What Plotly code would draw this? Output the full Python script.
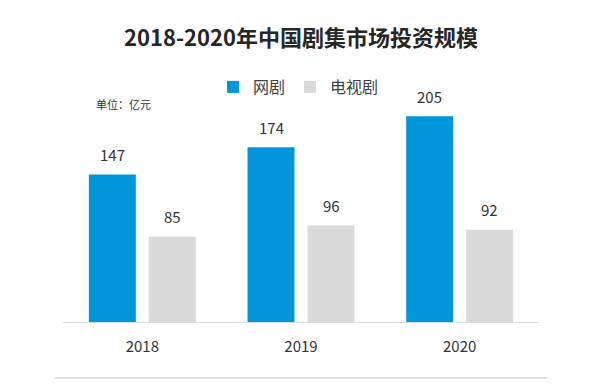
import plotly.graph_objects as go

years = ["2018", "2019", "2020"]
web_series = [147, 174, 205]
tv_series = [85, 96, 92]
series_names = ["网剧", "电视剧"]
title_text = "2018-2020年中国剧集市场投资规模"
unit_text = "单位：亿元"

FONT = "Noto Sans CJK SC"
BLUE = "#0096DB"
GRAY = "#DADADA"

W, H = 612, 384
L, R, T, B = 63, 73, 71, 62
pw, ph = W - L - R, H - T - B

def px_to_paper(xp, yp):
    return (xp - L) / pw, (H - B - yp) / ph

fig = go.Figure()
fig.add_trace(go.Bar(x=years, y=web_series, name=series_names[0],
                     marker=dict(color=BLUE, line=dict(width=0))))
fig.add_trace(go.Bar(x=years, y=tv_series, name=series_names[1],
                     marker=dict(color=GRAY, line=dict(width=0))))

annotations = []
for i, v in enumerate(web_series):
    annotations.append(dict(x=i, y=v, xref="x", yref="y", text=str(v), showarrow=False,
                            xshift=-30, yshift=20, font=dict(size=15, color="#333333", family=FONT)))
for i, v in enumerate(tv_series):
    annotations.append(dict(x=i, y=v, xref="x", yref="y", text=str(v), showarrow=False,
                            xshift=30, yshift=20, font=dict(size=15, color="#333333", family=FONT)))
ux, uy = px_to_paper(94, 104)
annotations.append(dict(x=ux, y=uy, xref="paper", yref="paper", text=unit_text, showarrow=False,
                        xanchor="left", yanchor="middle",
                        font=dict(size=11, color="#333333", family=FONT)))

bx0, by = px_to_paper(55, 378)
bx1, _ = px_to_paper(547, 378)

fig.update_layout(
    width=W, height=H,
    margin=dict(l=L, r=R, t=T, b=B),
    paper_bgcolor="white", plot_bgcolor="white",
    font=dict(family=FONT, color="#333333"),
    title=dict(text="<b>" + title_text + "</b>", x=301 / W, xanchor="center",
               y=1 - 38 / H, yanchor="middle",
               font=dict(size=22, color="#262626", family=FONT)),
    barmode="group", bargap=0.244, bargroupgap=0.217,
    showlegend=True,
    legend=dict(orientation="h", x=px_to_paper(213, 0)[0], xanchor="left",
                y=px_to_paper(0, 87)[1], yanchor="middle",
                font=dict(size=16, color="#404040", family=FONT),
                bgcolor="rgba(0,0,0,0)", traceorder="normal"),
    xaxis=dict(type="category", range=[-0.5, len(years) - 0.5],
               showline=True, linecolor="#D9D9D9", linewidth=1, showgrid=False,
               ticks="outside", ticklen=11, tickcolor="rgba(0,0,0,0)",
               tickfont=dict(size=15, color="#333333", family=FONT)),
    yaxis=dict(range=[0, 250], visible=False, showgrid=False, zeroline=False),
    annotations=annotations,
    shapes=[dict(type="line", xref="paper", yref="paper", x0=bx0, x1=bx1, y0=by, y1=by,
                 line=dict(color="#BFBFBF", width=1))],
)

fig.write_html("out.html", config={"displayModeBar": False},
               post_script="document.body.style.margin='0';")
